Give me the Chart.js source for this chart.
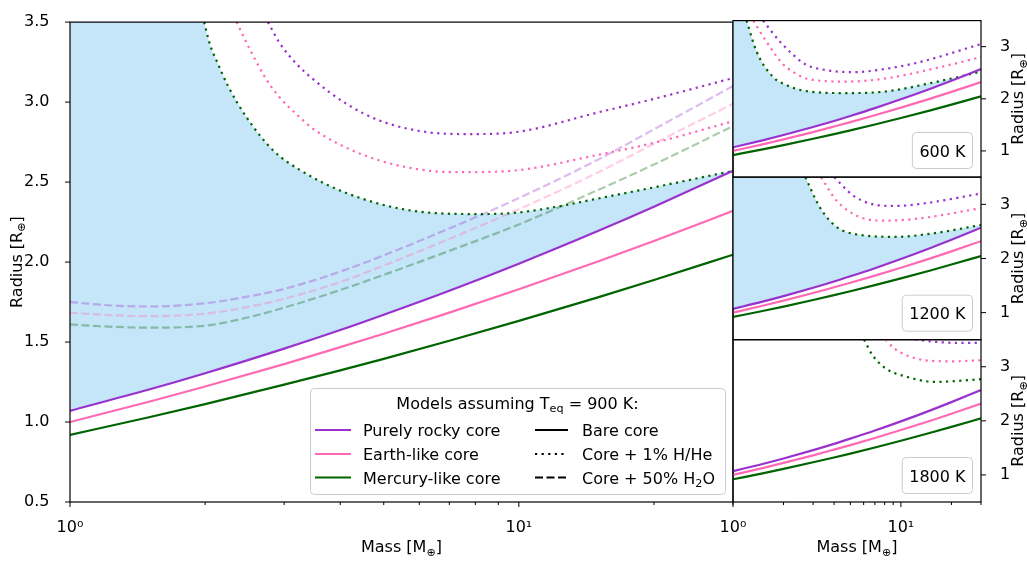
<!DOCTYPE html>
<html>
<head>
<meta charset="utf-8">
<script src="https://cdn.jsdelivr.net/npm/chart.js@4.4.0/dist/chart.umd.min.js"></script>
<style>
  body { margin: 0; background: #fff; }
  #wrap { position: relative; width: 1027px; height: 561px; }
  #wrap canvas { position: absolute; left: 0; top: 0; }
</style>
</head>
<body>
<div id="wrap">
  <canvas id="main" width="1027" height="561"></canvas>
  <canvas id="p600" width="1027" height="561"></canvas>
  <canvas id="p1200" width="1027" height="561"></canvas>
  <canvas id="p1800" width="1027" height="561"></canvas>
</div>
<script>
// bare cores (same in every panel)
const massBare = [1, 1.5, 2, 3, 4, 5, 7, 10, 15, 20, 30];
const rockyBare = [1.07, 1.203, 1.305, 1.459, 1.575, 1.671, 1.821, 1.99, 2.194, 2.346, 2.57];
const earthBare = [1.00, 1.127, 1.222, 1.362, 1.468, 1.552, 1.684, 1.83, 2.003, 2.132, 2.32];
const mercuryBare = [0.92, 1.03, 1.112, 1.234, 1.323, 1.395, 1.508, 1.632, 1.779, 1.888, 2.046];

// 900 K, core + 50% H2O
const massWater = [1, 1.25, 1.5, 2, 2.5, 3, 4, 5, 7, 10, 15, 20, 30];
const rockyWater = [1.75, 1.728, 1.722, 1.742, 1.785, 1.832, 1.94, 2.042, 2.21, 2.40, 2.64, 2.83, 3.10];
const earthWater = [1.683, 1.667, 1.662, 1.677, 1.72, 1.77, 1.875, 1.978, 2.145, 2.33, 2.56, 2.74, 2.99];
const mercuryWater = [1.61, 1.595, 1.59, 1.602, 1.655, 1.715, 1.825, 1.92, 2.07, 2.235, 2.45, 2.61, 2.85];

// 900 K, core + 1% H/He
const massRocky900 = [2.76, 2.93, 3.2, 3.48, 4.14, 4.9, 6.34, 7.78, 10, 15, 20, 30];
const rocky900 = [3.5, 3.37, 3.237, 3.143, 2.987, 2.884, 2.81, 2.80, 2.815, 2.935, 3.02, 3.15];
const massEarth900 = [2.35, 2.52, 2.74, 2.93, 3.25, 3.48, 4.5, 6.34, 7.52, 10, 15, 20, 30];
const earth900 = [3.5, 3.326, 3.14, 3.03, 2.905, 2.833, 2.67, 2.57, 2.562, 2.575, 2.67, 2.745, 2.88];
const massMercury900 = [1.99, 2.05, 2.12, 2.25, 2.46, 2.83, 3.25, 4.14, 5.81, 8.18, 10, 16.5, 30];
const mercury900 = [3.5, 3.36, 3.26, 3.10, 2.915, 2.70, 2.576, 2.43, 2.32, 2.30, 2.31, 2.42, 2.57];

// 600 K, core + 1% H/He
const massRocky600 = [1.51, 1.90, 2.27, 2.73, 3.27, 5.16, 8.11, 12.8, 30];
const rocky600 = [3.5, 3.10, 2.85, 2.65, 2.574, 2.51, 2.574, 2.70, 3.05];
const massEarth600 = [1.32, 1.58, 1.98, 2.27, 2.73, 4.71, 8.11, 16, 30];
const earth600 = [3.5, 3.10, 2.667, 2.52, 2.39, 2.33, 2.39, 2.585, 2.80];
const massMercury600 = [1.205, 1.38, 1.73, 2.08, 2.60, 4.71, 8.11, 16, 30];
const mercury600 = [3.5, 2.91, 2.42, 2.265, 2.16, 2.11, 2.14, 2.32, 2.52];

// 1200 K, core + 1% H/He
const massRocky1200 = [4.01, 5.16, 6.46, 9.29, 13.9, 30];
const rocky1200 = [3.5, 3.17, 3.02, 2.97, 3.02, 3.20];
const massEarth1200 = [3.35, 4.11, 5.64, 8.11, 12.8, 30];
const earth1200 = [3.5, 3.08, 2.77, 2.70, 2.74, 2.93];
const massMercury1200 = [2.70, 3.27, 4.11, 5.90, 9.29, 16, 30];
const mercury1200 = [3.5, 2.96, 2.59, 2.43, 2.40, 2.47, 2.62];

// 1800 K, core + 1% H/He
const massRocky1800 = [12.2, 16, 22, 30];
const rocky1800 = [3.5, 3.46, 3.44, 3.44];
const massEarth1800 = [8.1, 9.2, 10.66, 13.9, 20.2, 30];
const earth1800 = [3.5, 3.33, 3.22, 3.12, 3.10, 3.12];
const massMercury1800 = [6.04, 6.75, 8.11, 10.66, 16, 30];
const mercury1800 = [3.5, 3.22, 2.97, 2.82, 2.72, 2.77];

// ticks
const xMajorTicks = [1, 10];
const xMinorTicks = [2, 3, 4, 5, 6, 7, 8, 9, 20, 30];
const mainYTicks = [0.5, 1.0, 1.5, 2.0, 2.5, 3.0, 3.5];
const panelYTicks = [1, 2, 3];

const coreNames = ['Purely rocky core', 'Earth-like core', 'Mercury-like core'];

const ROCKY = '#9932cc', EARTH = '#ff69b4', MERCURY = '#006400';
const ROCKY_A = 'rgba(153,50,204,0.33)', EARTH_A = 'rgba(255,105,180,0.33)', MERCURY_A = 'rgba(0,100,0,0.33)';
const BLUE = '#c5e5f9';
const DOT = [2.2, 4.4], DASH = [8, 3.5];
const FS = 16;

Chart.defaults.font.family = 'DejaVu Sans';
Chart.defaults.font.size = FS;
Chart.defaults.color = '#000';

function pts(m, r) {
  return m.map((x, i) => ({ x: x, y: r[i] }));
}

function line(m, r, color, dash, extra) {
  return Object.assign({
    data: pts(m, r),
    borderColor: color,
    borderWidth: 2.2,
    borderDash: dash || [],
    pointRadius: 0,
    fill: false,
    cubicInterpolationMode: 'monotone'
  }, extra || {});
}

// text with subscripts, parts = [[text, isSub], ...]
function rich(ctx, parts, x, y, align) {
  const font = s => (s ? FS * 0.7 : FS) + 'px "DejaVu Sans"';
  let w = 0;
  parts.forEach(p => { ctx.font = font(p[1]); w += ctx.measureText(p[0]).width; });
  let cx = align === 'center' ? x - w / 2 : x;
  ctx.textAlign = 'left';
  ctx.textBaseline = 'alphabetic';
  parts.forEach(p => {
    ctx.font = font(p[1]);
    ctx.fillText(p[0], cx, p[1] ? y + FS * 0.22 : y);
    cx += ctx.measureText(p[0]).width;
  });
}

function seg(ctx, x1, y1, x2, y2) {
  ctx.beginPath(); ctx.moveTo(x1, y1); ctx.lineTo(x2, y2); ctx.stroke();
}

// frame, tick marks, axis titles, boxes
const decor = {
  id: 'decor',
  afterDraw(chart, args, opts) {
    const ctx = chart.ctx, a = chart.chartArea;
    ctx.save();
    ctx.strokeStyle = '#000';
    ctx.lineWidth = 1.2;
    ctx.setLineDash([]);
    ctx.strokeRect(a.left, a.top, a.right - a.left, a.bottom - a.top);
    ctx.lineWidth = 1;
    if (opts.xTicks) {
      const xs = chart.scales.x;
      xMajorTicks.forEach(v => { const p = xs.getPixelForValue(v); seg(ctx, p, a.bottom, p, a.bottom + 5); });
      xMinorTicks.forEach(v => { const p = xs.getPixelForValue(v); seg(ctx, p, a.bottom, p, a.bottom + 3); });
      ctx.fillStyle = '#000';
      rich(ctx, [['Mass [M'], ['⊕', 1], [']']], (a.left + a.right) / 2, 552, 'center');
    }
    const ys = chart.scales.y;
    ys.ticks.forEach(t => {
      const p = ys.getPixelForValue(t.value);
      if (opts.yRight) seg(ctx, a.right, p, a.right + 5, p);
      else seg(ctx, a.left - 5, p, a.left, p);
    });
    ctx.fillStyle = '#000';
    ctx.save();
    ctx.translate(opts.yRight ? 1023 : 21.5, (a.top + a.bottom) / 2);
    ctx.rotate(-Math.PI / 2);
    rich(ctx, [['Radius [R'], ['⊕', 1], [']']], 0, 0, 'center');
    ctx.restore();
    if (opts.box) {
      ctx.font = FS + 'px "DejaVu Sans"';
      const bw = ctx.measureText(opts.box).width + 14, bh = 36;
      const bx = a.right - 8.5 - bw, by = a.bottom - 8.5 - bh;
      ctx.beginPath();
      ctx.roundRect(bx, by, bw, bh, 4);
      ctx.fillStyle = 'rgba(255,255,255,0.8)';
      ctx.fill();
      ctx.strokeStyle = '#cccccc';
      ctx.stroke();
      ctx.fillStyle = '#000';
      ctx.textAlign = 'center';
      ctx.textBaseline = 'alphabetic';
      ctx.fillText(opts.box, bx + bw / 2, by + bh / 2 + 6);
    }
    if (opts.legend) drawLegend(ctx);
    ctx.restore();
  }
};

function drawLegend(ctx) {
  const x = 310.5, y = 388.5, w = 415, h = 106;
  ctx.beginPath();
  ctx.roundRect(x, y, w, h, 4);
  ctx.fillStyle = 'rgba(255,255,255,0.8)';
  ctx.fill();
  ctx.strokeStyle = '#cccccc';
  ctx.lineWidth = 1;
  ctx.stroke();
  ctx.fillStyle = '#000';
  rich(ctx, [['Models assuming T'], ['eq', 1], [' = 900 K:']], 517.5, 408.5, 'center');
  const rows = [430, 454, 477.5];
  const colors = [ROCKY, EARTH, MERCURY];
  const styles = [[], DOT, DASH];
  const styleText = [[['Bare core']], [['Core + 1% H/He']], [['Core + 50% H'], ['2', 1], ['O']]];
  rows.forEach((ry, i) => {
    ctx.lineWidth = 2.2;
    ctx.setLineDash([]);
    ctx.strokeStyle = colors[i];
    seg(ctx, 315, ry, 351, ry);
    ctx.strokeStyle = '#000';
    ctx.setLineDash(styles[i]);
    seg(ctx, 535, ry, 568, ry);
    ctx.setLineDash([]);
    ctx.fillStyle = '#000';
    rich(ctx, [[coreNames[i]]], 363, ry + 6, 'left');
    rich(ctx, styleText[i], 582, ry + 6, 'left');
  });
}

function xScale(show) {
  return {
    type: 'logarithmic', min: 1, max: 30, display: show,
    afterBuildTicks: s => { s.ticks = xMajorTicks.concat(xMinorTicks).sort((p, q) => p - q).map(v => ({ value: v })); },
    afterFit: s => { if (show) s.height = 59; },
    grid: { display: false }, border: { display: false },
    ticks: { autoSkip: false, maxRotation: 0, padding: 8,
      callback: v => v === 1 ? '10⁰' : v === 10 ? '10¹' : '' }
  };
}

function yScale(right) {
  const vals = right ? panelYTicks : mainYTicks;
  return {
    type: 'linear', min: 0.5, max: 3.5, position: right ? 'right' : 'left',
    afterBuildTicks: s => { s.ticks = vals.map(v => ({ value: v })); },
    afterFit: s => { s.width = right ? 46 : 70; },
    grid: { display: false }, border: { display: false },
    ticks: { padding: right ? 11 : 12.5, callback: v => right ? String(v) : v.toFixed(1) }
  };
}

function baseOptions(padding, xShow, right, decorOpts) {
  return {
    responsive: false, animation: false, devicePixelRatio: 1,
    layout: { padding: padding },
    scales: { x: xScale(xShow), y: yScale(right) },
    plugins: {
      legend: { display: false }, tooltip: { enabled: false },
      filler: { drawTime: 'beforeDatasetsDraw' },
      decor: decorOpts
    }
  };
}

// main panel, 900 K
new Chart(document.getElementById('main'), {
  type: 'line',
  data: { datasets: [
    line(massBare, rockyBare, ROCKY),
    line(massBare, earthBare, EARTH),
    line(massBare, mercuryBare, MERCURY),
    line(massRocky900, rocky900, ROCKY, DOT),
    line(massEarth900, earth900, EARTH, DOT),
    line(massMercury900, mercury900, MERCURY, DOT, { fill: 'end', backgroundColor: '#fff' }),
    line(massWater, rockyWater, ROCKY_A, DASH),
    line(massWater, earthWater, EARTH_A, DASH),
    line(massWater, mercuryWater, MERCURY_A, DASH),
    line(massBare, rockyBare, 'rgba(0,0,0,0)', [], { borderWidth: 0, fill: 'end', backgroundColor: BLUE })
  ] },
  options: baseOptions({ left: 0, right: 294, top: 15, bottom: 0 }, true, false,
    { xTicks: true, yRight: false, legend: true }),
  plugins: [decor]
});

function panel(id, top, bottom, rk, ea, me, filled, label, xShow) {
  const sets = [
    line(massBare, rockyBare, ROCKY),
    line(massBare, earthBare, EARTH),
    line(massBare, mercuryBare, MERCURY),
    line(rk[0], rk[1], ROCKY, DOT),
    line(ea[0], ea[1], EARTH, DOT),
    line(me[0], me[1], MERCURY, DOT, filled ? { fill: 'end', backgroundColor: '#fff' } : {})
  ];
  if (filled) sets.push(line(massBare, rockyBare, 'rgba(0,0,0,0)', [], { borderWidth: 0, fill: 'end', backgroundColor: BLUE }));
  new Chart(document.getElementById(id), {
    type: 'line',
    data: { datasets: sets },
    options: baseOptions({ left: 733, right: 0, top: top, bottom: bottom }, xShow, true,
      { xTicks: xShow, yRight: true, box: label }),
    plugins: [decor]
  });
}

panel('p600', 15, 384, [massRocky600, rocky600], [massEarth600, earth600], [massMercury600, mercury600], true, '600 K', false);
panel('p1200', 177.3, 221.3, [massRocky1200, rocky1200], [massEarth1200, earth1200], [massMercury1200, mercury1200], true, '1200 K', false);
panel('p1800', 339.7, 0, [massRocky1800, rocky1800], [massEarth1800, earth1800], [massMercury1800, mercury1800], false, '1800 K', true);
</script>
</body>
</html>
